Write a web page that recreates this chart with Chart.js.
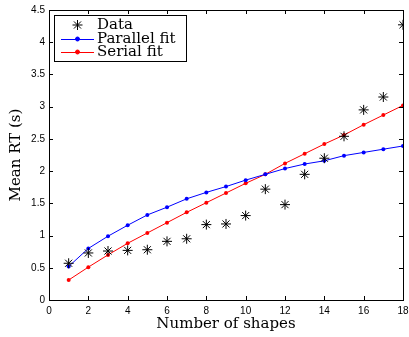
<!DOCTYPE html>
<html>
<head>
<meta charset="utf-8">
<script src="https://cdn.jsdelivr.net/npm/chart.js@4/dist/chart.umd.min.js"></script>
<style>
  html, body { margin: 0; padding: 0; background: #fff; }
  #wrap { width: 409px; height: 337px; }
</style>
</head>
<body>
<div id="wrap"><canvas id="myChart" width="409" height="337"></canvas></div>
<script>
"use strict";

// values
const shapes = [1, 2, 3, 4, 5, 6, 7, 8, 9, 10, 11, 12, 13, 14, 15, 16, 17, 18];
const dataRT = [0.57, 0.73, 0.76, 0.77, 0.78, 0.91, 0.95, 1.17, 1.18, 1.31, 1.72, 1.48, 1.95, 2.20, 2.54, 2.95, 3.15, 4.27];
const parallelFit = [0.52, 0.80, 0.99, 1.16, 1.32, 1.44, 1.57, 1.67, 1.76, 1.86, 1.95, 2.04, 2.11, 2.16, 2.24, 2.29, 2.34, 2.39];
const serialFit = [0.31, 0.51, 0.70, 0.88, 1.04, 1.20, 1.36, 1.51, 1.66, 1.81, 1.95, 2.12, 2.27, 2.42, 2.56, 2.72, 2.87, 3.02];
const legendLabels = ["Data", "Parallel fit", "Serial fit"];
const xTitle = "Number of shapes";
const yTitle = "Mean RT (s)";

function toPoints(vals) {
  return shapes.map((x, i) => ({ x: x, y: vals[i] }));
}

// box round the plot with inward ticks, matlab style
const framePlugin = {
  id: "frame",
  afterDatasetsDraw(chart) {
    const ctx = chart.ctx;
    const a = chart.chartArea;
    const xs = chart.scales.x;
    const ys = chart.scales.y;
    const len = 4;
    ctx.save();
    ctx.strokeStyle = "#000";
    ctx.lineWidth = 1;
    ctx.beginPath();
    xs.ticks.forEach(t => {
      const px = Math.round(xs.getPixelForValue(t.value)) + 0.5;
      ctx.moveTo(px, a.bottom); ctx.lineTo(px, a.bottom - len);
      ctx.moveTo(px, a.top); ctx.lineTo(px, a.top + len);
    });
    ys.ticks.forEach(t => {
      const py = Math.round(ys.getPixelForValue(t.value)) + 0.5;
      ctx.moveTo(a.left, py); ctx.lineTo(a.left + len, py);
      ctx.moveTo(a.right, py); ctx.lineTo(a.right - len, py);
    });
    ctx.stroke();
    ctx.strokeRect(Math.round(a.left) + 0.5, Math.round(a.top) + 0.5,
      Math.round(a.right - a.left), Math.round(a.bottom - a.top));
    ctx.restore();
  }
};

// legend box in the upper left corner of the plot
const legendPlugin = {
  id: "boxLegend",
  afterDraw(chart) {
    const ctx = chart.ctx;
    const a = chart.chartArea;
    const bx = a.left + 5, by = a.top + 5, bw = 132, bh = 46;
    ctx.save();
    ctx.fillStyle = "#fff";
    ctx.fillRect(bx, by, bw, bh);
    ctx.strokeStyle = "#000";
    ctx.lineWidth = 1;
    ctx.strokeRect(Math.round(bx) + 0.5, Math.round(by) + 0.5, bw, bh);
    ctx.font = "15px 'DejaVu Serif'";
    ctx.textBaseline = "middle";
    const rows = [by + 10, by + 24, by + 37];
    chart.data.datasets.forEach((ds, i) => {
      const y = rows[i];
      const x0 = bx + 7, x1 = bx + 40, xm = (x0 + x1) / 2;
      if (ds.showLine !== false) {
        ctx.strokeStyle = ds.borderColor;
        ctx.lineWidth = ds.borderWidth;
        ctx.beginPath();
        ctx.moveTo(x0, y + 0.5);
        ctx.lineTo(x1, y + 0.5);
        ctx.stroke();
      }
      ctx.strokeStyle = ds.pointBorderColor || ds.borderColor;
      ctx.fillStyle = ds.pointBackgroundColor || ds.backgroundColor;
      ctx.lineWidth = 1;
      Chart.helpers.drawPoint(ctx, {
        pointStyle: ds.pointStyle,
        radius: ds.pointRadius,
        borderWidth: ds.pointBorderWidth || 1,
        rotation: 0
      }, xm, y);
      ctx.fillStyle = "#000";
      ctx.fillText(legendLabels[i], bx + 43, y);
    });
    ctx.restore();
  }
};

const chartConfig = {
  type: "scatter",
  data: {
    datasets: [
      {
        label: legendLabels[0],
        data: toPoints(dataRT),
        showLine: false,
        pointStyle: "star",
        pointRadius: 5,
        pointBorderWidth: 1,
        borderColor: "#000",
        backgroundColor: "#000",
        pointBorderColor: "#000",
        order: 0
      },
      {
        label: legendLabels[1],
        data: toPoints(parallelFit),
        showLine: true,
        pointStyle: "circle",
        pointRadius: 2,
        pointBorderWidth: 0,
        borderWidth: 1,
        borderColor: "#0000ff",
        backgroundColor: "#0000ff",
        pointBackgroundColor: "#0000ff",
        order: 1
      },
      {
        label: legendLabels[2],
        data: toPoints(serialFit),
        showLine: true,
        pointStyle: "circle",
        pointRadius: 2,
        pointBorderWidth: 0,
        borderWidth: 1,
        borderColor: "#ff0000",
        backgroundColor: "#ff0000",
        pointBackgroundColor: "#ff0000",
        order: 2
      }
    ]
  },
  options: {
    responsive: false,
    animation: false,
    devicePixelRatio: 1,
    layout: { padding: { top: 10, right: 6, left: 0, bottom: 0 } },
    plugins: {
      legend: { display: false },
      tooltip: { enabled: false }
    },
    scales: {
      x: {
        type: "linear",
        min: 0,
        max: 18,
        ticks: {
          stepSize: 2,
          color: "#000",
          padding: 5,
          maxRotation: 0,
          font: { family: "'Liberation Sans'", size: 10 }
        },
        grid: { display: false, drawTicks: false },
        border: { display: false },
        title: {
          display: true,
          text: xTitle,
          color: "#000",
          font: { family: "'DejaVu Serif'", size: 15 },
          padding: { top: 0, bottom: 4 }
        },
        afterFit(scale) {
          scale.height = 37;
          scale.paddingLeft = 0;
          scale.paddingRight = 0;
        }
      },
      y: {
        type: "linear",
        min: 0,
        max: 4.5,
        ticks: {
          stepSize: 0.5,
          color: "#000",
          padding: 4,
          font: { family: "'Liberation Sans'", size: 10 },
          callback: v => String(v)
        },
        grid: { display: false, drawTicks: false },
        border: { display: false },
        title: {
          display: true,
          text: yTitle,
          color: "#000",
          font: { family: "'DejaVu Serif'", size: 15 },
          padding: { top: 7, bottom: 0 }
        },
        afterFit(scale) {
          scale.width = 49;
          scale.paddingTop = 0;
          scale.paddingBottom = 0;
        }
      }
    }
  },
  plugins: [framePlugin, legendPlugin]
};

const canvas = document.getElementById("myChart");
const myChart = new Chart(canvas.getContext("2d"), chartConfig);
</script>
</body>
</html>
